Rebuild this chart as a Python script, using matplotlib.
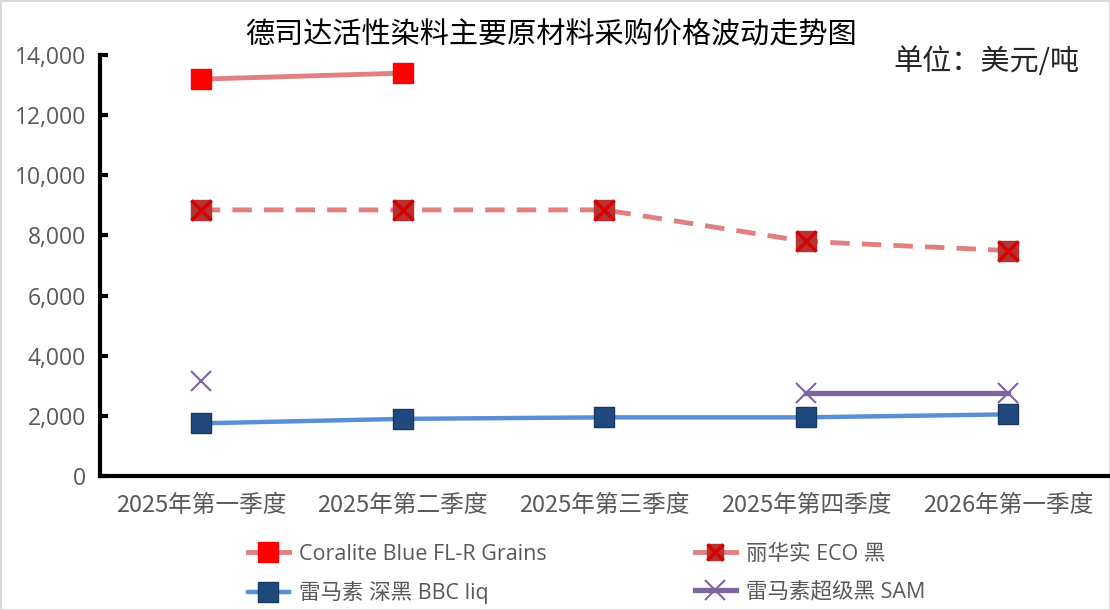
import matplotlib.pyplot as plt
import numpy as np
from matplotlib.lines import Line2D

plt.rcParams['font.family'] = ['Noto Sans CJK SC', 'DejaVu Sans']

# Data
quarters = ['2025年第一季度', '2025年第二季度', '2025年第三季度', '2025年第四季度', '2026年第一季度']
coralite = [13200, 13400, np.nan, np.nan, np.nan]
eco_black = [8850, 8850, 8850, 7800, 7500]
bbc_liq = [1750, 1900, 1950, 1950, 2050]
sam_black = [3150, np.nan, np.nan, 2750, 2750]

series_names = ['Coralite Blue FL-R Grains', '丽华实 ECO 黑', '雷马素 深黑 BBC liq', '雷马素超级黑 SAM']
yticks = [0, 2000, 4000, 6000, 8000, 10000, 12000, 14000]

fig = plt.figure(figsize=(11.1, 6.1), dpi=100)
fig.patch.set_edgecolor('#D9D9D9')
fig.patch.set_linewidth(2)
ax = fig.add_axes([0.090, 0.2197, 0.909, 0.690])

x = np.arange(len(quarters))

# Coralite Blue
l1, = ax.plot(x, coralite, color='#E08080', linewidth=3.5, marker='s', markersize=15,
              markerfacecolor='#FF0000', markeredgecolor='#FF0000', zorder=3)

# ECO black - dashed line, dark red square with red cross
l2, = ax.plot(x, eco_black, color='#E08080', linewidth=3.5, dashes=(4, 2.5), zorder=3)
ax.plot(x, eco_black, linestyle='none', marker='s', markersize=14,
        markerfacecolor='#B83232', markeredgecolor='#B83232', zorder=4)
ax.plot(x, eco_black, linestyle='none', marker='x', markersize=14, markeredgewidth=2.5,
        color='#D80000', zorder=5)

# BBC liq
l3, = ax.plot(x, bbc_liq, color='#5B8FD5', linewidth=3.2, marker='s', markersize=15,
              markerfacecolor='#1F497D', markeredgecolor='#17375E', zorder=3)

# SAM
l4, = ax.plot(x, sam_black, color='#8064A2', linewidth=3.8, marker='x', markersize=15,
              markeredgewidth=1.5, zorder=3)

ax.set_xlim(-0.5, len(quarters) - 0.5)
ax.set_ylim(0, 14000)
ax.set_yticks(yticks)
ax.set_yticklabels([f'{v:,}' for v in yticks], fontsize=16.5, color='#595959',
                   family=['Open Sans', 'DejaVu Sans'])
ax.set_xticks(x)
ax.set_xticklabels(quarters, fontsize=17, color='#595959')
ax.tick_params(axis='y', direction='in', length=6, width=3, pad=10)
ax.tick_params(axis='x', length=0, pad=13)

for side in ['top', 'right']:
    ax.spines[side].set_visible(False)
for side in ['left', 'bottom']:
    ax.spines[side].set_linewidth(3)
    ax.spines[side].set_color('black')

fig.text(0.496, 0.942, '德司达活性染料主要原材料采购价格波动走势图', ha='center', va='center',
         fontsize=21, color='black', fontweight='medium')
fig.text(0.805, 0.898, '单位：美元/吨', ha='left', va='center', fontsize=21, color='#262626')

# Legend handles with combined marker for ECO
h2 = (Line2D([], [], color='#E08080', linewidth=3.5),
      Line2D([], [], linestyle='none', marker='s', markersize=12, markerfacecolor='#B83232', markeredgecolor='#B83232'),
      Line2D([], [], linestyle='none', marker='x', markersize=12, markeredgewidth=2.5, color='#D80000'))
# legend fills column-wise: order so that rows read Coralite / ECO, BBC / SAM
handles = [l1, l3, h2, l4]
labels = [series_names[0], series_names[2], series_names[1], series_names[3]]
leg = fig.legend(handles, labels, ncol=2, loc='center left',
                 bbox_to_anchor=(0.206, 0.059), frameon=False, handlelength=1.9,
                 columnspacing=6.9, handletextpad=0.45, labelspacing=0.75,
                 prop={'family': ['Open Sans', 'Noto Sans CJK SC'], 'size': 15.5})
for t in leg.get_texts():
    t.set_color('#595959')

fig.savefig('out.png', dpi=100)
